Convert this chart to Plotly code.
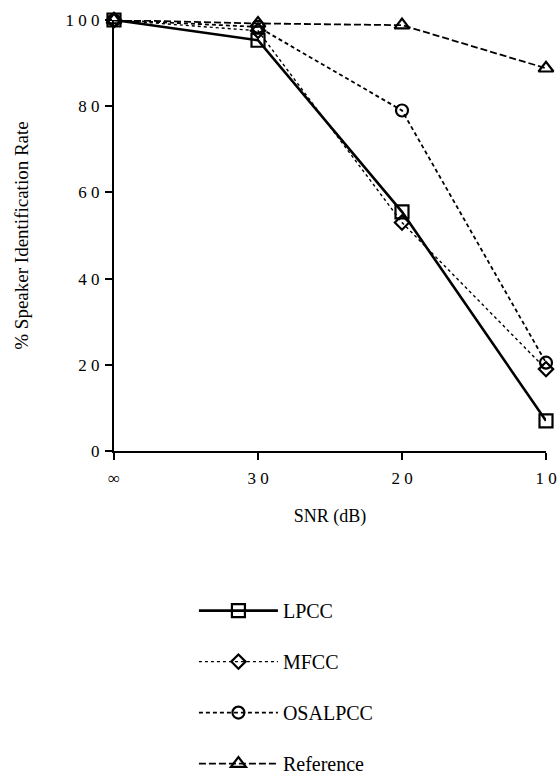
import plotly.graph_objects as go

snr = ["∞", "30", "20", "10"]
snr_ticktext = ["∞", "3 0", "2 0", "1 0"]
y_ticks = [0, 20, 40, 60, 80, 100]
y_ticktext = ["0", "2 0", "4 0", "6 0", "8 0", "1 0 0"]

lpcc = [100, 95.3, 55.5, 7.0]
mfcc = [100, 97.5, 53.0, 19.0]
osalpcc = [100, 98.4, 79.0, 20.5]
reference = [100, 99.2, 98.8, 88.8]

series = [
    ("LPCC", lpcc, dict(width=2.6, dash="solid"), "square-open", 13),
    ("MFCC", mfcc, dict(width=1.4, dash="dot"), "diamond-open", 11),
    ("OSALPCC", osalpcc, dict(width=1.8, dash="4px,3px"), "circle-open", 12),
    ("Reference", reference, dict(width=1.8, dash="7px,3px"), "triangle-up-open", 13),
]

serif = "Liberation Serif"

fig = go.Figure()
for i, (name, vals, line, sym, size) in enumerate(series):
    fig.add_trace(go.Scatter(
        x=snr, y=vals, name=name, mode="lines+markers",
        line=dict(color="black", **line),
        marker=dict(symbol=sym, size=size, color="black",
                    line=dict(width=2.2, color="black")),
        cliponaxis=False, legendgroup=name,
    ))

fig.update_layout(
    width=558, height=774,
    margin=dict(l=114, r=12, t=20, b=323),
    paper_bgcolor="white", plot_bgcolor="white",
    font=dict(family=serif, color="black", size=18),
    showlegend=True,
    legend=dict(x=0.185, xref="paper", y=0.2363, yref="container",
                xanchor="left", yanchor="top",
                traceorder="grouped", tracegroupgap=22,
                font=dict(size=20, family=serif),
                bgcolor="rgba(0,0,0,0)", itemwidth=79),
)
fig.update_xaxes(
    type="category", categoryorder="array", categoryarray=snr,
    range=[0, 3], tickvals=snr, ticktext=snr_ticktext,
    showline=True, linecolor="black", linewidth=2.4,
    ticks="outside", ticklen=7, tickwidth=2, tickcolor="black",
    showgrid=False, zeroline=False, ticklabelstandoff=3,
    tickfont=dict(size=17, family=serif), automargin=False,
    title=dict(text="SNR (dB)", font=dict(size=18, family=serif), standoff=23),
)
fig.update_yaxes(
    range=[0, 100], tickvals=y_ticks, ticktext=y_ticktext,
    showline=True, linecolor="black", linewidth=2.4,
    ticks="outside", ticklen=7, tickwidth=2, tickcolor="black",
    showgrid=False, zeroline=False, ticklabelstandoff=2,
    tickfont=dict(size=17, family=serif), automargin=False,
    title=dict(text="% Speaker Identification Rate", font=dict(size=19, family=serif), standoff=32),
)

fig.write_html("out.html", config={"displayModeBar": False},
               post_script="document.body.style.margin='0';document.body.style.overflow='hidden';")
